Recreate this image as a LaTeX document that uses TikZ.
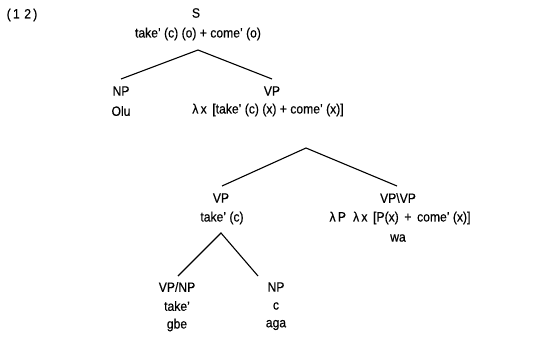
\documentclass[tikz,border=0pt]{standalone}
\usepackage{fontspec}
\setmainfont[FakeStretch=0.9,FakeBold=0.4]{Liberation Sans}
\begin{document}
\begin{tikzpicture}[x=1pt,y=-1pt,
  lbl/.style={inner sep=0pt,font=\fontsize{13.5}{15}\selectfont},
  edge/.style={line width=1.1pt}]
\useasboundingbox (0,0) rectangle (537,345);
\node[lbl] (num) at (22,15) {(\,1\,\,2\,)};
\node[lbl] (S) at (196,13) {S};
\node[lbl] (Ssem) at (198,34) {take' (c) (o) + come' (o)};
\coordinate (Sa) at (198,50);
\node[lbl] (NP1) at (121,91) {NP};
\node[lbl] (olu) at (121,111) {Olu};
\coordinate (NP1t) at (121,79);
\node[lbl] (VP1) at (272,91) {VP};
\node[lbl] (VP1sem) at (268,110) {λ\,x\, [take' (c) (x) + come' (x)]};
\coordinate (VP1t) at (272,79);
\coordinate (VP1a) at (306,148);
\node[lbl] (VP2) at (221,198) {VP};
\node[lbl] (VP2sem) at (222,218) {take' (c)};
\coordinate (VP2t) at (222,186);
\node[lbl] (VPVP) at (398,198) {VP\textbackslash VP};
\node[lbl] (VPVPsem) at (400,218) {λ\,P\; λ\,x\, [P(x)\, +\, come' (x)]};
\node[lbl] (wa) at (398,238) {wa};
\coordinate (VPVPt) at (397,186);
\coordinate (VP2a) at (221,233);
\node[lbl] (VPNP) at (177,287) {VP/NP};
\node[lbl] (take) at (177,306) {take'};
\node[lbl] (gbe) at (177,325) {gbe};
\coordinate (VPNPt) at (178,276);
\node[lbl] (NP2) at (276,287) {NP};
\node[lbl] (c) at (276,306) {c};
\node[lbl] (aga) at (276,325) {aga};
\coordinate (NP2t) at (258,276);
\draw[edge] (NP1t) -- (Sa) -- (VP1t);
\draw[edge] (VP2t) -- (VP1a) -- (VPVPt);
\draw[edge] (VPNPt) -- (VP2a) -- (NP2t);
\end{tikzpicture}
\end{document}
